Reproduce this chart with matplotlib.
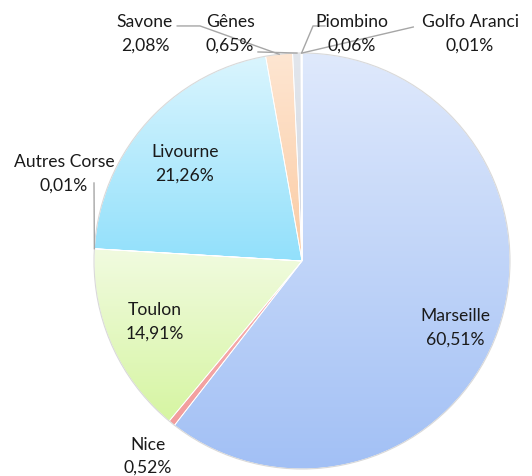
import numpy as np
import matplotlib
matplotlib.use("Agg")
import matplotlib.pyplot as plt
from matplotlib.colors import LinearSegmentedColormap

# parts des ports (%), dans l'ordre des secteurs (sens horaire depuis le haut)
ports = ["Marseille", "Nice", "Toulon", "Autres Corse", "Livourne",
         "Savone", "Gênes", "Piombino", "Golfo Aranci"]
parts = [60.51, 0.52, 14.91, 0.01, 21.26, 2.08, 0.65, 0.06, 0.01]

# couleurs haut / bas du dégradé de chaque secteur
top_colors = ["#dfe9fc", "#f8b4b4", "#f1fbe0", "#d8f2fc", "#daf5fe",
              "#fee6d2", "#e2e6ec", "#e4e4f0", "#e4e4f0"]
bot_colors = ["#a2c0f5", "#f29c9c", "#d6f5a2", "#94e0fb", "#92e0fb",
              "#fbcba3", "#d2d8e2", "#d0d0e4", "#d0d0e4"]

plt.rcParams['font.family'] = ['Lato', 'DejaVu Sans']

fig = plt.figure(figsize=(5.32, 4.76), dpi=100)
ax = fig.add_axes([0, 0, 1, 1])

wedges, _ = ax.pie(parts, startangle=90, counterclock=False, radius=1,
                   wedgeprops=dict(facecolor="none", edgecolor="none"))

grad = np.linspace(1, 0, 256).reshape(-1, 1)
for w, c1, c2 in zip(wedges, top_colors, bot_colors):
    cmap = LinearSegmentedColormap.from_list("g", [c2, c1])
    bb = w.get_path().get_extents(w.get_patch_transform())
    im = ax.imshow(grad, cmap=cmap, extent=[bb.x0, bb.x1, bb.y0, bb.y1],
                   aspect="auto", origin="upper", zorder=1)
    im.set_clip_path(w)
    w.set_edgecolor("white")
    w.set_linewidth(0.6)
    w.set_zorder(2)

ax.add_patch(plt.Circle((0, 0), 1, fill=False, ec="#d9d9d9", lw=0.8, zorder=3))

# positions des étiquettes (en rayons)
label_pos = [(0.736, -0.322), (-0.740, -0.94), (-0.707, -0.293),
             (-1.144, 0.418), (-0.5625, 0.466), (-0.755, 1.091),
             (-0.346, 1.091), (0.240, 1.091), (0.808, 1.091)]

for name, val, (x, y) in zip(ports, parts, label_pos):
    txt = "%s\n%s%%" % (name, ("%.2f" % val).replace(".", ","))
    ax.text(x, y, txt, ha="center", va="center", fontsize=12.6,
            color="#1a1a1a", linespacing=1.55, zorder=5)

# lignes de repère
def edge_point(i):
    start = sum(parts[:i])
    mid = 90 - 3.6 * (start + parts[i] / 2)
    return np.cos(np.radians(mid)), np.sin(np.radians(mid))

leaders = {3: [(-1.0, 0.375)],
           5: [(-0.60, 1.13), (-0.49, 1.13)],
           6: [(-0.2115, 1.005)],
           7: [(0.11, 1.13), (0.053, 1.13)],
           8: [(0.535, 1.125)]}
for i, pts in leaders.items():
    ex, ey = edge_point(i)
    xs = [p[0] for p in pts] + [ex]
    ys = [p[1] for p in pts] + [ey]
    ax.plot(xs, ys, color="#a6a6a6", lw=1, zorder=4)

ax.set_xlim(-302 / 208, 230 / 208)
ax.set_ylim(-215 / 208, 261 / 208)
ax.set_aspect("auto")
ax.axis("off")

fig.savefig("out.png", dpi=100)
